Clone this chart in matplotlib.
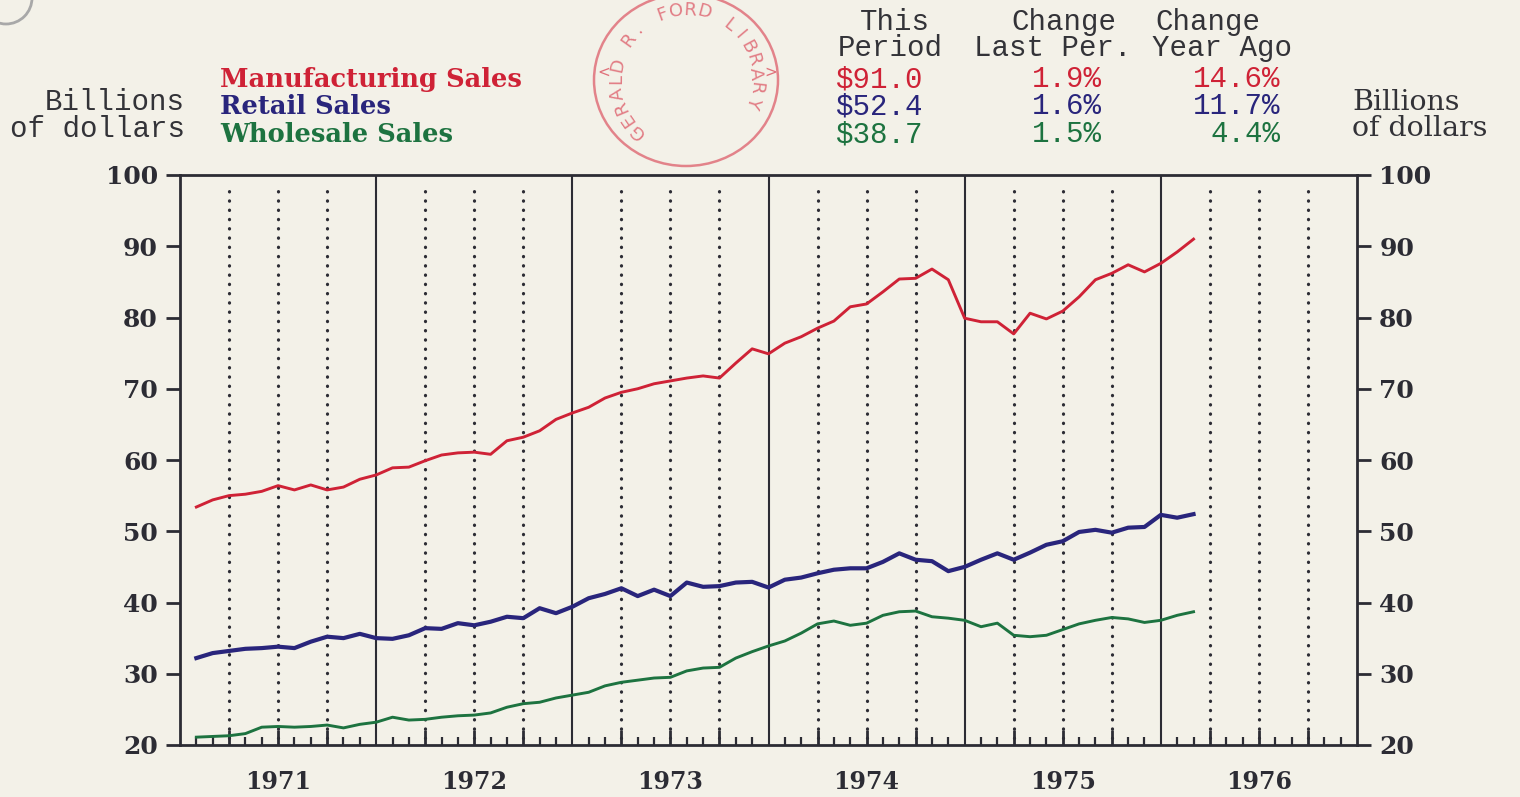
import matplotlib
matplotlib.use('Agg')
import matplotlib.pyplot as plt
from matplotlib.patches import Ellipse, Circle
import numpy as np

# monthly sales, Jan 1971 .. Feb 1976 (billions of dollars)
mfg = [53.4, 54.4, 55.0, 55.2, 55.6, 56.4, 55.8, 56.5, 55.8, 56.2, 57.3, 57.9,
       58.9, 59.0, 59.9, 60.7, 61.0, 61.1, 60.8, 62.7, 63.2, 64.1, 65.7, 66.6,
       67.4, 68.7, 69.5, 70.0, 70.7, 71.1, 71.5, 71.8, 71.5, 73.6, 75.6, 74.9,
       76.4, 77.3, 78.5, 79.5, 81.5, 81.9, 83.6, 85.4, 85.5, 86.8, 85.3, 79.9,
       79.4, 79.4, 77.7, 80.6, 79.8, 80.9, 82.9, 85.3, 86.2, 87.4, 86.4, 87.6,
       89.2, 91.0]
retail = [32.2, 32.9, 33.2, 33.5, 33.6, 33.8, 33.6, 34.5, 35.2, 35.0, 35.6, 35.0,
          34.9, 35.4, 36.4, 36.3, 37.1, 36.8, 37.3, 38.0, 37.8, 39.2, 38.5, 39.4,
          40.6, 41.2, 42.0, 40.9, 41.8, 40.9, 42.8, 42.2, 42.3, 42.8, 42.9, 42.1,
          43.2, 43.5, 44.1, 44.6, 44.8, 44.8, 45.7, 46.9, 46.0, 45.8, 44.4, 45.0,
          46.0, 46.9, 46.0, 47.0, 48.1, 48.6, 49.9, 50.2, 49.8, 50.5, 50.6, 52.3,
          51.9, 52.4]
wholesale = [21.1, 21.2, 21.3, 21.6, 22.5, 22.6, 22.5, 22.6, 22.8, 22.4, 22.9, 23.2,
             23.9, 23.5, 23.6, 23.9, 24.1, 24.2, 24.5, 25.3, 25.8, 26.0, 26.6, 27.0,
             27.4, 28.3, 28.8, 29.1, 29.4, 29.5, 30.4, 30.8, 30.9, 32.2, 33.1, 33.9,
             34.6, 35.7, 37.0, 37.4, 36.8, 37.1, 38.2, 38.7, 38.8, 38.0, 37.8, 37.5,
             36.6, 37.1, 35.4, 35.2, 35.4, 36.2, 37.0, 37.5, 37.9, 37.7, 37.2, 37.5,
             38.2, 38.7]
start_year = 1971
years = [1971, 1972, 1973, 1974, 1975, 1976]

names = ['Manufacturing Sales', 'Retail Sales', 'Wholesale Sales']
this_period = ['$91.0', '$52.4', '$38.7']
chg_last = ['1.9%', '1.6%', '1.5%']
chg_year = ['14.6%', '11.7%', '4.4%']

C_RED = '#cf2236'
C_BLUE = '#29257c'
C_GREEN = '#1d7340'
C_INK = '#2c2c34'
C_TXT = '#333338'
BG = '#f3f1e8'
MONO = 'Liberation Mono'
SERIF = 'DejaVu Serif'

W, H = 1520, 797
fig = plt.figure(figsize=(W / 100, H / 100), dpi=100)
fig.patch.set_facecolor(BG)

ax = fig.add_axes([180 / W, 1 - 745 / H, 1177 / W, 570 / H])
ax.set_facecolor(BG)

# month m is plotted at the end of its month
x = start_year + (np.arange(len(mfg)) + 1) / 12.0
ax.plot(x, mfg, color=C_RED, lw=2.1, zorder=5)
ax.plot(x, retail, color=C_BLUE, lw=3.0, zorder=5)
ax.plot(x, wholesale, color=C_GREEN, lw=2.1, zorder=5)

ax.set_xlim(years[0], years[-1] + 1)
ax.set_ylim(20, 100)

# grid: solid at year boundaries, dotted at quarters
for yr in years[1:]:
    ax.axvline(yr, color=C_INK, lw=1.5, zorder=2)
for yr in years:
    for q in (0.25, 0.5, 0.75):
        ax.axvline(yr + q, ymin=0.012, ymax=0.983, color=C_INK, lw=2.3,
                   linestyle=(0, (0.1, 2.8)), dash_capstyle='round', zorder=2)

for s in ax.spines.values():
    s.set_color(C_INK)
    s.set_linewidth(2)

yt = list(range(20, 101, 10))
ax.set_yticks(yt)
ax.set_yticklabels([str(v) for v in yt])
ax.tick_params(axis='y', direction='out', length=10, width=2, color=C_INK,
               left=True, right=True, labelleft=True, labelright=True,
               labelsize=18, labelcolor=C_INK, pad=6)

qt = [yr + q for yr in years for q in (0.25, 0.5, 0.75)]
ax.set_xticks(qt)
ax.set_xticklabels([str(int(t)) if abs(t % 1 - 0.5) < 1e-6 else '' for t in qt])
ax.set_xticks([yr + m / 12 for yr in years for m in range(1, 12)], minor=True)
ax.tick_params(axis='x', which='major', direction='in', length=11, width=2,
               color=C_INK, labelsize=17, labelcolor=C_INK, pad=18)
ax.tick_params(axis='x', which='minor', direction='in', length=6, width=1.6,
               color=C_INK)
for lab in ax.get_xticklabels() + ax.get_yticklabels():
    lab.set_family(SERIF)
    lab.set_fontweight('bold')

# overlay in pixel coordinates for the header texts and stamp
ov = fig.add_axes([0, 0, 1, 1], zorder=-1)
ov.set_xlim(0, W)
ov.set_ylim(H, 0)
ov.axis('off')

ov.text(185, 102, 'Billions', family=MONO, fontsize=21, color=C_TXT,
        ha='right', va='center')
ov.text(185, 129, 'of dollars', family=MONO, fontsize=21, color=C_TXT,
        ha='right', va='center')
ov.text(1352, 102, 'Billions', family=SERIF, fontsize=20.5, color=C_TXT,
        ha='left', va='center')
ov.text(1352, 128, 'of dollars', family=SERIF, fontsize=20.5, color=C_TXT,
        ha='left', va='center')

cols = [C_RED, C_BLUE, C_GREEN]
rows_y = [79, 106, 134]
for name, c, yy in zip(names, cols, rows_y):
    ov.text(220, yy, name, family=SERIF, fontweight='bold', fontsize=18.5,
            color=c, ha='left', va='center')

hdr = dict(family=MONO, fontsize=21, color=C_TXT, ha='center', va='center')
ov.text(895, 22, 'This', **hdr)
ov.text(890, 48, 'Period', **hdr)
ov.text(1064, 22, 'Change', **hdr)
ov.text(1053, 48, 'Last Per.', **hdr)
ov.text(1208, 22, 'Change', **hdr)
ov.text(1222, 48, 'Year Ago', **hdr)

for tp, cl, cy, c, yy in zip(this_period, chg_last, chg_year, cols, rows_y):
    ov.text(835, yy, tp, family=MONO, fontsize=21, color=c, ha='left', va='center')
    ov.text(1102, yy, cl, family=MONO, fontsize=21, color=c, ha='right', va='center')
    ov.text(1280, yy, cy, family=MONO, fontsize=21, color=c, ha='right', va='center')

# library stamp
STAMP = '#e0707a'
cx, cy0, r = 686, 80, 70
ov.add_patch(Ellipse((cx, cy0), 184, 172, fill=False, ec=STAMP, lw=1.8, alpha=0.85))
stamp_txt = 'GERALD R. FORD LIBRARY'
angs = np.linspace(226, -18, len(stamp_txt))
for ch, a in zip(stamp_txt, angs):
    t = np.deg2rad(a)
    ov.text(cx + r * np.cos(t), cy0 - r * np.sin(t), ch, family='DejaVu Sans',
            fontsize=13, color=STAMP, rotation=a - 90, ha='center', va='center',
            alpha=0.9)
ov.text(604, 72, '<', family='DejaVu Sans', fontsize=11, color=STAMP, ha='center', va='center')
ov.text(771, 72, '>', family='DejaVu Sans', fontsize=11, color=STAMP, ha='center', va='center')

# punch hole at top-left corner
ov.add_patch(Circle((6, -2), 26, fill=False, ec='#a8a8a8', lw=2))

plt.savefig('out.png', dpi=100, facecolor=BG)
